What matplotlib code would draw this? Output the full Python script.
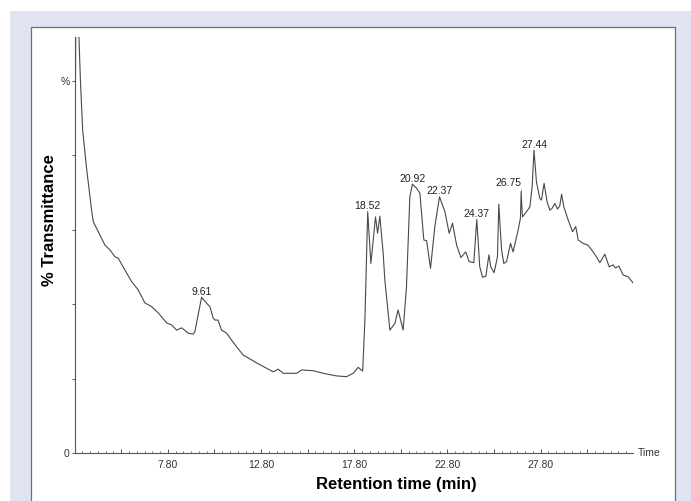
import matplotlib
matplotlib.use('Agg')
import matplotlib.pyplot as plt
from matplotlib.patches import Rectangle
import numpy as np

plt.rcParams['font.family'] = ['Liberation Sans', 'DejaVu Sans']

# chromatogram trace (time in min, % transmittance)
times = [2.84, 2.88, 2.98, 3.03, 3.11, 3.23, 3.45, 3.71, 3.80, 4.07,
         4.43, 4.70, 4.96, 5.14, 5.50, 5.86, 6.21, 6.57, 6.93, 7.29,
         7.74, 8.00, 8.27, 8.54, 8.89, 9.16, 9.25, 9.61, 9.88, 10.06,
         10.23, 10.33, 10.49, 10.68, 10.95, 11.13, 11.49, 11.84, 12.56, 13.45,
         13.72, 13.99, 14.71, 14.97, 15.60, 16.13, 16.85, 17.39, 17.74, 18.01,
         18.25, 18.37, 18.52, 18.69, 18.94, 19.05, 19.17, 19.35, 19.44, 19.71,
         19.98, 20.15, 20.42, 20.60, 20.78, 20.92, 21.14, 21.32, 21.53, 21.68,
         21.89, 22.12, 22.37, 22.66, 22.89, 23.07, 23.29, 23.52, 23.78, 23.96,
         24.21, 24.37, 24.53, 24.68, 24.86, 25.02, 25.12, 25.30, 25.48, 25.55,
         25.70, 25.82, 25.97, 26.18, 26.32, 26.59, 26.71, 26.75, 26.82, 27.04,
         27.22, 27.34, 27.44, 27.57, 27.75, 27.84, 27.98, 28.14, 28.29, 28.41,
         28.56, 28.70, 28.82, 28.92, 29.04, 29.27, 29.51, 29.68, 29.81, 30.07,
         30.34, 30.61, 30.79, 30.97, 31.24, 31.47, 31.68, 31.81, 31.99, 32.22,
         32.49, 32.75]
transmittance = [95.5, 130, 130, 112, 100.1, 86.7, 76.0, 65.2, 62.1, 59.4,
                 55.8, 54.5, 52.7, 52.3, 49.1, 46.0, 43.8, 40.3, 39.3, 37.6,
                 34.9, 34.4, 33.0, 33.6, 32.2, 31.9, 32.6, 41.8, 40.2, 39.3,
                 36.2, 35.7, 35.7, 33.0, 32.2, 30.9, 28.5, 26.3, 24.2, 21.8,
                 22.5, 21.4, 21.4, 22.3, 22.1, 21.4, 20.7, 20.5, 21.4, 23.0,
                 22.0, 35.7, 64.8, 50.9, 63.4, 59.0, 63.6, 53.6, 46.4, 33.0,
                 34.8, 38.4, 33.0, 44.6, 68.8, 72.2, 71.1, 69.7, 57.2, 57.0,
                 49.6, 60.8, 68.8, 64.8, 59.0, 61.7, 55.8, 52.5, 54.0, 51.4,
                 51.1, 62.7, 50.0, 47.2, 47.5, 53.2, 50.0, 48.4, 52.7, 66.8,
                 54.5, 50.9, 51.4, 56.3, 54.0, 59.9, 63.0, 69.7, 63.4, 64.8,
                 66.1, 71.5, 81.3, 72.8, 68.4, 67.9, 72.4, 67.5, 65.2, 65.7,
                 67.0, 65.5, 66.3, 69.5, 66.1, 62.6, 59.4, 60.8, 57.2, 56.3,
                 55.8, 54.0, 52.7, 51.1, 53.4, 50.0, 50.5, 49.7, 50.2, 47.8,
                 47.3, 45.7]

peak_times = [9.61, 18.52, 20.92, 22.37, 24.37, 26.75, 27.44]
peak_labels = ['9.61', '18.52', '20.92', '22.37', '24.37', '26.75', '27.44']

x_ticks = [5.3, 7.8, 10.3, 12.8, 15.3, 17.8, 20.3, 22.8, 25.3, 27.8, 30.3]
x_tick_labels = ['', '7.80', '', '12.80', '', '17.80', '', '22.80', '', '27.80', '']
y_ticks = [0, 20, 40, 60, 80, 100]
y_tick_labels = ['0', '', '', '', '', '%']

W, H = 691, 501
fig = plt.figure(figsize=(W / 100, H / 100), dpi=100)
fig.patch.set_facecolor('white')

# lavender frame and white panel
fig.add_artist(Rectangle((10 / W, 0), 1, 1 - 11 / H, transform=fig.transFigure,
                         facecolor='#e0e4f2', edgecolor='none', zorder=0))
fig.add_artist(Rectangle((31 / W, -0.05), (675 - 31) / W, 1.05 - 27 / H,
                         transform=fig.transFigure, facecolor='white',
                         edgecolor='#6e6e6e', lw=0.9, zorder=0.5))

ax = fig.add_axes([75 / W, 48 / H, 558 / W, 416 / H])
ax.set_zorder(2)
ax.patch.set_alpha(0)

ax.plot(times, transmittance, color='#484848', lw=0.8, solid_joinstyle='round')

ax.set_xlim(2.82, 32.75)
ax.set_ylim(0, 111.7)

for s in ['top', 'right']:
    ax.spines[s].set_visible(False)
for s in ['left', 'bottom']:
    ax.spines[s].set_color('#555555')
    ax.spines[s].set_linewidth(0.8)

ax.set_xticks(x_ticks)
ax.set_xticklabels(x_tick_labels)
ax.set_xticks(np.arange(2.8 + 5 / 12, 32.75, 5 / 12), minor=True)
ax.tick_params(axis='x', which='major', direction='in', length=3, width=0.7,
               color='#555555', labelcolor='#333333', labelsize=7.5, pad=5)
ax.tick_params(axis='x', which='minor', direction='in', length=1.6, width=0.6,
               color='#555555')
ax.set_yticks(y_ticks)
ax.set_yticklabels(y_tick_labels)
ax.tick_params(axis='y', direction='out', length=2.5, width=0.7,
               color='#555555', labelcolor='#333333', labelsize=7.5, pad=1.5)

# peak labels
peak_vals = np.interp(peak_times, times, transmittance)
for t, v, lab in zip(peak_times, peak_vals, peak_labels):
    if lab == '26.75':
        ax.annotate(lab, xy=(t, v), xytext=(-9, 5.3), textcoords='offset points',
                    ha='center', va='baseline', fontsize=7.5, color='#222222',
                    arrowprops=dict(arrowstyle='-', color='#333333', lw=0.7,
                                    shrinkA=0, shrinkB=0, relpos=(1.0, 0.0)))
    else:
        ax.annotate(lab, xy=(t, v), xytext=(0, 1.7), textcoords='offset points',
                    ha='center', va='baseline', fontsize=7.5, color='#222222')

ax.text(1.008, 0, 'Time', transform=ax.transAxes, ha='left', va='center',
        fontsize=7.5, color='#333333')

fig.text(396.5 / W, 1 - 485 / H, 'Retention time (min)', ha='center', va='center',
         fontsize=12, fontweight='bold')
fig.text(50 / W, 1 - 220 / H, '% Transmittance', rotation=90, ha='center',
         va='center', fontsize=12, fontweight='bold')

fig.savefig('out.png', dpi=100)
